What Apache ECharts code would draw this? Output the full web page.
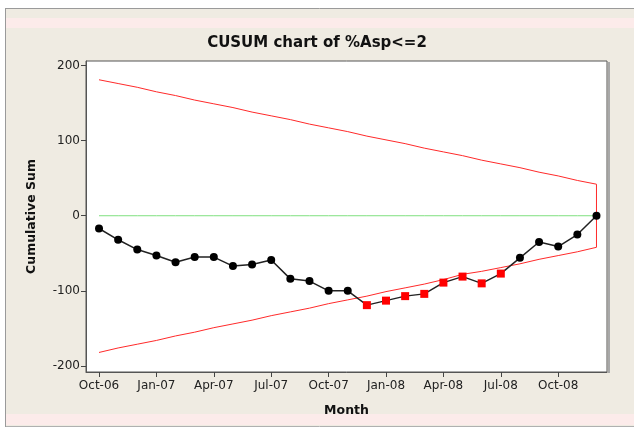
<!DOCTYPE html>
<html>
<head>
<meta charset="utf-8">
<script src="https://cdn.jsdelivr.net/npm/echarts@6/dist/echarts.min.js"></script>
<style>
  html, body { margin: 0; padding: 0; background: #fff; }
  #chart { width: 634px; height: 430px; }
</style>
</head>
<body>
<div id="chart"></div>
<script>
// months, one point per month
const months = ['Oct-06','Nov-06','Dec-06','Jan-07','Feb-07','Mar-07','Apr-07','May-07','Jun-07',
  'Jul-07','Aug-07','Sep-07','Oct-07','Nov-07','Dec-07','Jan-08','Feb-08','Mar-08',
  'Apr-08','May-08','Jun-08','Jul-08','Aug-08','Sep-08','Oct-08','Nov-08','Dec-08'];
const cusum = [-17, -32, -45, -53, -62, -55, -55, -67, -65, -59, -84, -87, -100, -100,
  -119, -113, -107, -104, -89, -81, -90, -77, -56, -35, -41, -25, 0];
// 1 = signal (drawn as red square)
const signal = [0,0,0,0,0,0,0,0,0,0,0,0,0,0, 1,1,1,1,1,1,1,1, 0,0,0,0,0];
const upperLimit = [181, 176, 171, 165, 160, 154, 149, 144, 138, 133, 128, 122, 117, 112,
  106, 101, 96, 90, 85, 80, 74, 69, 64, 58, 53, 47, 42];
const lowerLimit = [-182, -176, -171, -166, -160, -155, -149, -144, -139, -133, -128, -123, -117, -112,
  -107, -101, -96, -91, -85, -78, -74, -69, -64, -58, -53, -48, -42];
const centerLine = [0,0,0,0,0,0,0,0,0,0,0,0,0,0,0,0,0,0,0,0,0,0,0,0,0,0,0];
const xTicks = [0, 3, 6, 9, 12, 15, 18, 21, 24];
const yTicks = [-200, -100, 0, 100, 200];

const chart = echarts.init(document.getElementById('chart'));

// limits drawn as one outline: upper left->right, then lower right->left
const limitData = upperLimit.map((v, i) => [i, v])
  .concat(lowerLimit.map((v, i) => [i, v]).reverse());

const cusumData = cusum.map((v, i) => signal[i]
  ? { value: [i, v], symbol: 'rect', symbolSize: 8, itemStyle: { color: '#ff0000' } }
  : { value: [i, v] });

const font = 'DejaVu Sans';

const option = {
  animation: false,
  backgroundColor: '#ffffff',
  graphic: [
    { type: 'rect', shape: { x: 5, y: 8, width: 629, height: 418 }, style: { fill: '#efebe2' }, z: -10 },
    { type: 'rect', shape: { x: 5, y: 18, width: 629, height: 10 }, style: { fill: '#fcebea' }, z: -9 },
    { type: 'rect', shape: { x: 5, y: 414, width: 629, height: 11 }, style: { fill: '#fcebea' }, z: -9 },
    { type: 'line', shape: { x1: 5, y1: 8.5, x2: 634, y2: 8.5 }, style: { stroke: '#9a9a9a', lineWidth: 1 }, z: -8 },
    { type: 'line', shape: { x1: 5, y1: 426.5, x2: 634, y2: 426.5 }, style: { stroke: '#b0b0b0', lineWidth: 1 }, z: -8 },
    { type: 'line', shape: { x1: 5.5, y1: 8, x2: 5.5, y2: 427 }, style: { stroke: '#9a9a9a', lineWidth: 1 }, z: -8 },
    // plot frame shadow on the right edge
    { type: 'line', shape: { x1: 609, y1: 62, x2: 609, y2: 373 }, style: { stroke: '#a8a8a8', lineWidth: 2 }, z: -7 }
  ],
  title: {
    text: 'CUSUM chart of %Asp<=2',
    left: 'center',
    top: 31,
    textStyle: { fontFamily: font, fontSize: 15, fontWeight: 'bold', color: '#111' }
  },
  grid: {
    left: 86, right: 27, top: 61, bottom: 58,
    show: true, backgroundColor: '#ffffff', borderColor: '#555', borderWidth: 1
  },
  xAxis: {
    type: 'value',
    min: -0.68,
    max: 26.55,
    name: 'Month',
    nameLocation: 'middle',
    nameGap: 32,
    nameTextStyle: { fontFamily: font, fontSize: 12.5, fontWeight: 'bold', color: '#111' },
    splitLine: { show: false },
    axisLine: { onZero: false, lineStyle: { color: '#555' } },
    axisTick: { length: 5, customValues: xTicks, lineStyle: { color: '#444' } },
    axisLabel: {
      customValues: xTicks,
      formatter: v => months[Math.round(v)] || '',
      margin: 8,
      fontFamily: font, fontSize: 12, color: '#222'
    }
  },
  yAxis: {
    type: 'value',
    min: -208,
    max: 206,
    name: 'Cumulative Sum',
    nameLocation: 'middle',
    nameGap: 48,
    nameTextStyle: { fontFamily: font, fontSize: 12.5, fontWeight: 'bold', color: '#111' },
    splitLine: { show: false },
    axisLine: { show: true, onZero: false, lineStyle: { color: '#555' } },
    axisTick: { show: true, length: 5, customValues: yTicks, lineStyle: { color: '#444' } },
    axisLabel: { customValues: yTicks, margin: 6, fontFamily: font, fontSize: 12, color: '#222' }
  },
  series: [
    {
      name: 'Limits',
      type: 'line',
      data: limitData,
      symbol: 'none',
      silent: true,
      lineStyle: { color: '#ff2a2a', width: 1 },
      z: 2
    },
    {
      name: 'Center',
      type: 'line',
      data: centerLine.map((v, i) => [i, v]),
      symbol: 'none',
      silent: true,
      lineStyle: { color: '#7fe07f', width: 1 },
      z: 1
    },
    {
      name: 'CUSUM',
      type: 'line',
      data: cusumData,
      symbol: 'circle',
      symbolSize: 8,
      itemStyle: { color: '#000' },
      lineStyle: { color: '#222', width: 1.5 },
      z: 3
    }
  ]
};

chart.setOption(option);
</script>
</body>
</html>
